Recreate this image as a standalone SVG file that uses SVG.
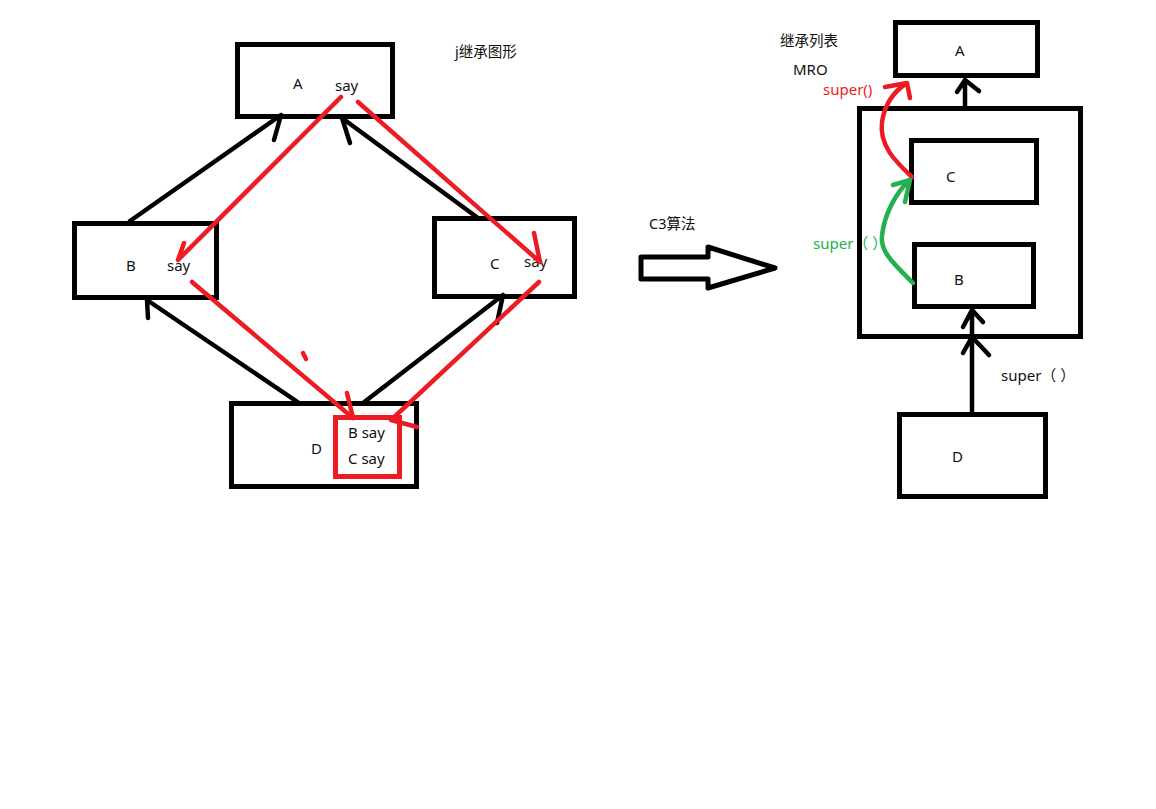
<svg xmlns="http://www.w3.org/2000/svg" width="1156" height="809" viewBox="0 0 1156 809">
  <defs>
    <style>
      .box { fill: none; stroke: #000; stroke-width: 5; }
      .redbox { fill: none; stroke: #ed1c24; stroke-width: 5; }
      .blk { fill: none; stroke: #000; stroke-width: 4.5; stroke-linecap: round; stroke-linejoin: round; }
      .red { fill: none; stroke: #ed1c24; stroke-width: 4.5; stroke-linecap: round; stroke-linejoin: round; }
      .grn { fill: none; stroke: #22b14c; stroke-width: 4.5; stroke-linecap: round; stroke-linejoin: round; }
      text { font-family: "Noto Sans", "Noto Sans CJK SC", sans-serif; font-size: 15px; fill: #111; }
      .cjk { font-size: 14.5px; }
      .rtxt { fill: #ed1c24; }
      .gtxt { fill: #22b14c; }
    </style>
  </defs>
  <rect width="1156" height="809" fill="#fff"/>

  <!-- left: inheritance diamond -->
  <g id="left-a">
    <rect class="box" x="237.5" y="44.5" width="155" height="72"/>
    <text x="293" y="89">A</text>
    <text x="335" y="91">say</text>
  </g>
  <text class="cjk" x="455" y="57">j继承图形</text>

  <g id="left-b">
    <rect class="box" x="74.5" y="223.5" width="142" height="74"/>
    <text x="126" y="271">B</text>
    <text x="167" y="271">say</text>
  </g>

  <g id="left-c">
    <rect class="box" x="434.5" y="218.5" width="140" height="78"/>
    <text x="490" y="269">C</text>
    <text x="524" y="267">say</text>
  </g>

  <g id="left-d">
    <rect class="box" x="231.5" y="403.5" width="185" height="83"/>
    <text x="311" y="454">D</text>
    <rect class="redbox" x="335.5" y="417.5" width="64" height="59"/>
    <text x="348" y="438">B say</text>
    <text x="348" y="464">C say</text>
  </g>

  <!-- transform arrow -->
  <g id="c3-arrow">
    <text class="cjk" x="649" y="229">C3算法</text>
    <polygon points="641,257 708,257 708,247 775,268 708,288 708,279 641,279" fill="#fff" stroke="#000" stroke-width="5" stroke-linejoin="round"/>
  </g>

  <!-- right: MRO list -->
  <text class="cjk" x="780" y="46">继承列表</text>
  <text x="793" y="75">MRO</text>
  <text class="rtxt" x="823" y="95">super()</text>
  <text class="gtxt" x="813" y="249">super（ ）</text>
  <text x="1001" y="381">super（ ）</text>

  <g id="right-a">
    <rect class="box" x="895.5" y="22.5" width="142" height="53"/>
    <text x="955" y="56">A</text>
  </g>

  <g id="right-mro">
    <rect class="box" x="859.5" y="108.5" width="221" height="228"/>
  </g>

  <g id="right-c">
    <rect class="box" x="911.5" y="140.5" width="125" height="62"/>
    <text x="946" y="182">C</text>
  </g>

  <g id="right-b">
    <rect class="box" x="914.5" y="244.5" width="119" height="62"/>
    <text x="954" y="285">B</text>
  </g>

  <g id="right-d">
    <rect class="box" x="899.5" y="414.5" width="146" height="82"/>
    <text x="952" y="462">D</text>
  </g>

  <g id="connectors">
    <!-- black inheritance edges -->
    <path class="blk" d="M130,221 L281,115 M274,140 L281,115"/>
    <path class="blk" d="M478,218 L342,118 M350,143 L342,118"/>
    <path class="blk" d="M299,403 L147,300 M148,318 L147,300"/>
    <path class="blk" d="M363,403 L503,295 M497,323 L503,295"/>

    <!-- red method lookups -->
    <path class="red" d="M341,97 L178,260 M184,243 L178,260"/>
    <path class="red" d="M358,102 L540,262 M534,233 L540,262"/>
    <path class="red" d="M192,282 L353,418 M347,393 L353,418"/>
    <path class="red" d="M539,282 L391,420 L417,427"/>
    <path class="red" d="M303,353 L306,359"/>

    <!-- right side -->
    <path class="blk" d="M965,108 L965,80 M957,92 L965,80 L979,91"/>
    <path class="blk" d="M972,414 L972,310 M963,353 L972,337 L989,355 M963,327 L972,310 L983,322"/>
    <path class="red" d="M912,177 C896,162 879,146 882,122 C885,102 896,90 907,83 M885,87 L907,83 L910,98"/>
    <path class="grn" d="M913,283 C895,265 880,252 882,236 C884,215 896,192 910,180 M893,185 L910,180 L905,202"/>
  </g>
</svg>
